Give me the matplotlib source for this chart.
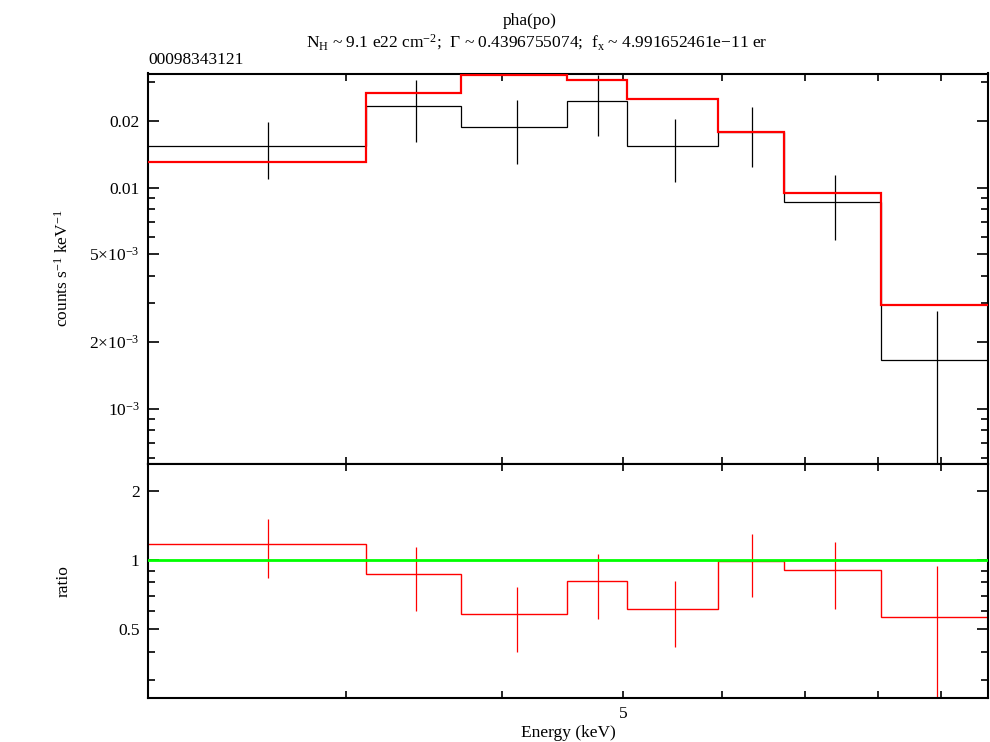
import numpy as np
import matplotlib
matplotlib.use("Agg")
import matplotlib.pyplot as plt
from matplotlib.ticker import FixedLocator, FixedFormatter, NullFormatter

plt.rcParams['font.family'] = ['Liberation Serif', 'DejaVu Serif']
plt.rcParams['mathtext.fontset'] = 'custom'
plt.rcParams['mathtext.rm'] = 'Liberation Serif'
plt.rcParams['mathtext.it'] = 'Liberation Serif:italic'
plt.rcParams['mathtext.bf'] = 'Liberation Serif:bold'

# ---- data ----
bin_edges = [2.08, 3.11, 3.71, 4.51, 5.04, 5.96, 6.73, 8.05, 9.81]   # keV
data_rate = [0.01537, 0.0233, 0.01885, 0.02475, 0.01547, 0.0178, 0.00859, 0.001657]
data_err = [0.0044, 0.0073, 0.0060, 0.0077, 0.0049, 0.0054, 0.0028, 0.0011]
model_rate = [0.0131, 0.02675, 0.03236, 0.0306, 0.02513, 0.01789, 0.00949, 0.002935]

x_ticks = [3, 4, 5, 6, 7, 8, 9]
x_tick_labels = ['', '', '5', '', '', '', '']
top_major = [1e-3, 2e-3, 5e-3, 0.01, 0.02]
top_major_labels = [r'10$^{-3}$', r'2$\times$10$^{-3}$', r'5$\times$10$^{-3}$', '0.01', '0.02']
top_minor = [6e-4, 7e-4, 8e-4, 9e-4, 3e-3, 4e-3, 6e-3, 7e-3, 8e-3, 9e-3, 0.03]
rat_major = [0.5, 1, 2]
rat_major_labels = ['0.5', '1', '2']
rat_minor = [0.3, 0.4, 0.6, 0.7, 0.8, 0.9]

edges = np.array(bin_edges)
centers = 0.5 * (edges[:-1] + edges[1:])
data = np.array(data_rate)
derr = np.array(data_err)
model = np.array(model_rate)
ratio = data / model
ratio_err = derr / model

W, H = 990, 742
fig = plt.figure(figsize=(W / 100, H / 100), dpi=100)

L, R = 148 / W, 988 / W
ax1 = fig.add_axes([L, 1 - 463.5 / H, R - L, (463.5 - 73.5) / H])
ax2 = fig.add_axes([L, 1 - 698 / H, R - L, (698 - 463.5) / H])

FS = 12.5

for ax in (ax1, ax2):
    ax.set_xscale('log')
    ax.set_yscale('log')
    ax.set_xlim(edges[0], edges[-1])
    for s in ax.spines.values():
        s.set_linewidth(1.5)
    ax.xaxis.set_major_locator(FixedLocator(x_ticks))
    ax.xaxis.set_minor_locator(FixedLocator([]))
    ax.tick_params(which='both', direction='in', top=True, right=True,
                   width=1.2, labelsize=FS, pad=6)
    ax.tick_params(axis='x', which='major', length=5)
    ax.tick_params(axis='y', which='major', length=8)
    ax.tick_params(axis='y', which='minor', length=5)

# ---- top panel ----
ax1.stairs(data, edges, baseline=None, color='black', linewidth=0.9, zorder=2)
ax1.errorbar(centers, data, yerr=derr, fmt='none', ecolor='black',
             elinewidth=0.9, capsize=0, zorder=2)
ax1.stairs(model, edges, baseline=None, color='#ff0000', linewidth=1.6, zorder=3)
ax1.set_ylim(0.000566, 0.0328)
ax1.yaxis.set_major_locator(FixedLocator(top_major))
ax1.yaxis.set_major_formatter(FixedFormatter(top_major_labels))
ax1.yaxis.set_minor_locator(FixedLocator(top_minor))
ax1.yaxis.set_minor_formatter(NullFormatter())
ax1.xaxis.set_major_formatter(NullFormatter())
ax1.set_ylabel(r'counts s$^{-1}$ keV$^{-1}$', fontsize=FS)
ax1.yaxis.set_label_coords((72 - 148) / 840, 0.5)

# ---- ratio panel ----
ax2.stairs(ratio, edges, baseline=None, color='#ff0000', linewidth=1.0, zorder=2)
ax2.errorbar(centers, ratio, yerr=ratio_err, fmt='none', ecolor='#ff0000',
             elinewidth=0.9, capsize=0, zorder=2)
ax2.axhline(1.0, color='#00ff00', linewidth=2.0, zorder=3)
ax2.set_ylim(0.251, 2.64)
ax2.yaxis.set_major_locator(FixedLocator(rat_major))
ax2.yaxis.set_major_formatter(FixedFormatter(rat_major_labels))
ax2.yaxis.set_minor_locator(FixedLocator(rat_minor))
ax2.yaxis.set_minor_formatter(NullFormatter())
ax2.xaxis.set_major_formatter(FixedFormatter(x_tick_labels))
ax2.set_ylabel('ratio', fontsize=FS)
ax2.yaxis.set_label_coords((72 - 148) / 840, 0.5)
ax2.set_xlabel('Energy (keV)', fontsize=FS, labelpad=2)

# ---- titles ----
fig.text(530 / W, 1 - 21 / H, 'pha(po)', ha='center', va='center', fontsize=FS)
fig.text(537 / W, 1 - 42 / H,
         r'N$_{\mathrm{H}}$ ~ 9.1 e22 cm$^{-2}$;  $\Gamma$ ~ 0.4396755074;  f$_{\mathrm{x}}$ ~ 4.991652461e$-$11 er',
         ha='center', va='center', fontsize=FS)
fig.text(148 / W, 1 - 60 / H, '00098343121', ha='left', va='center', fontsize=FS)

fig.savefig('out.png', dpi=100)
